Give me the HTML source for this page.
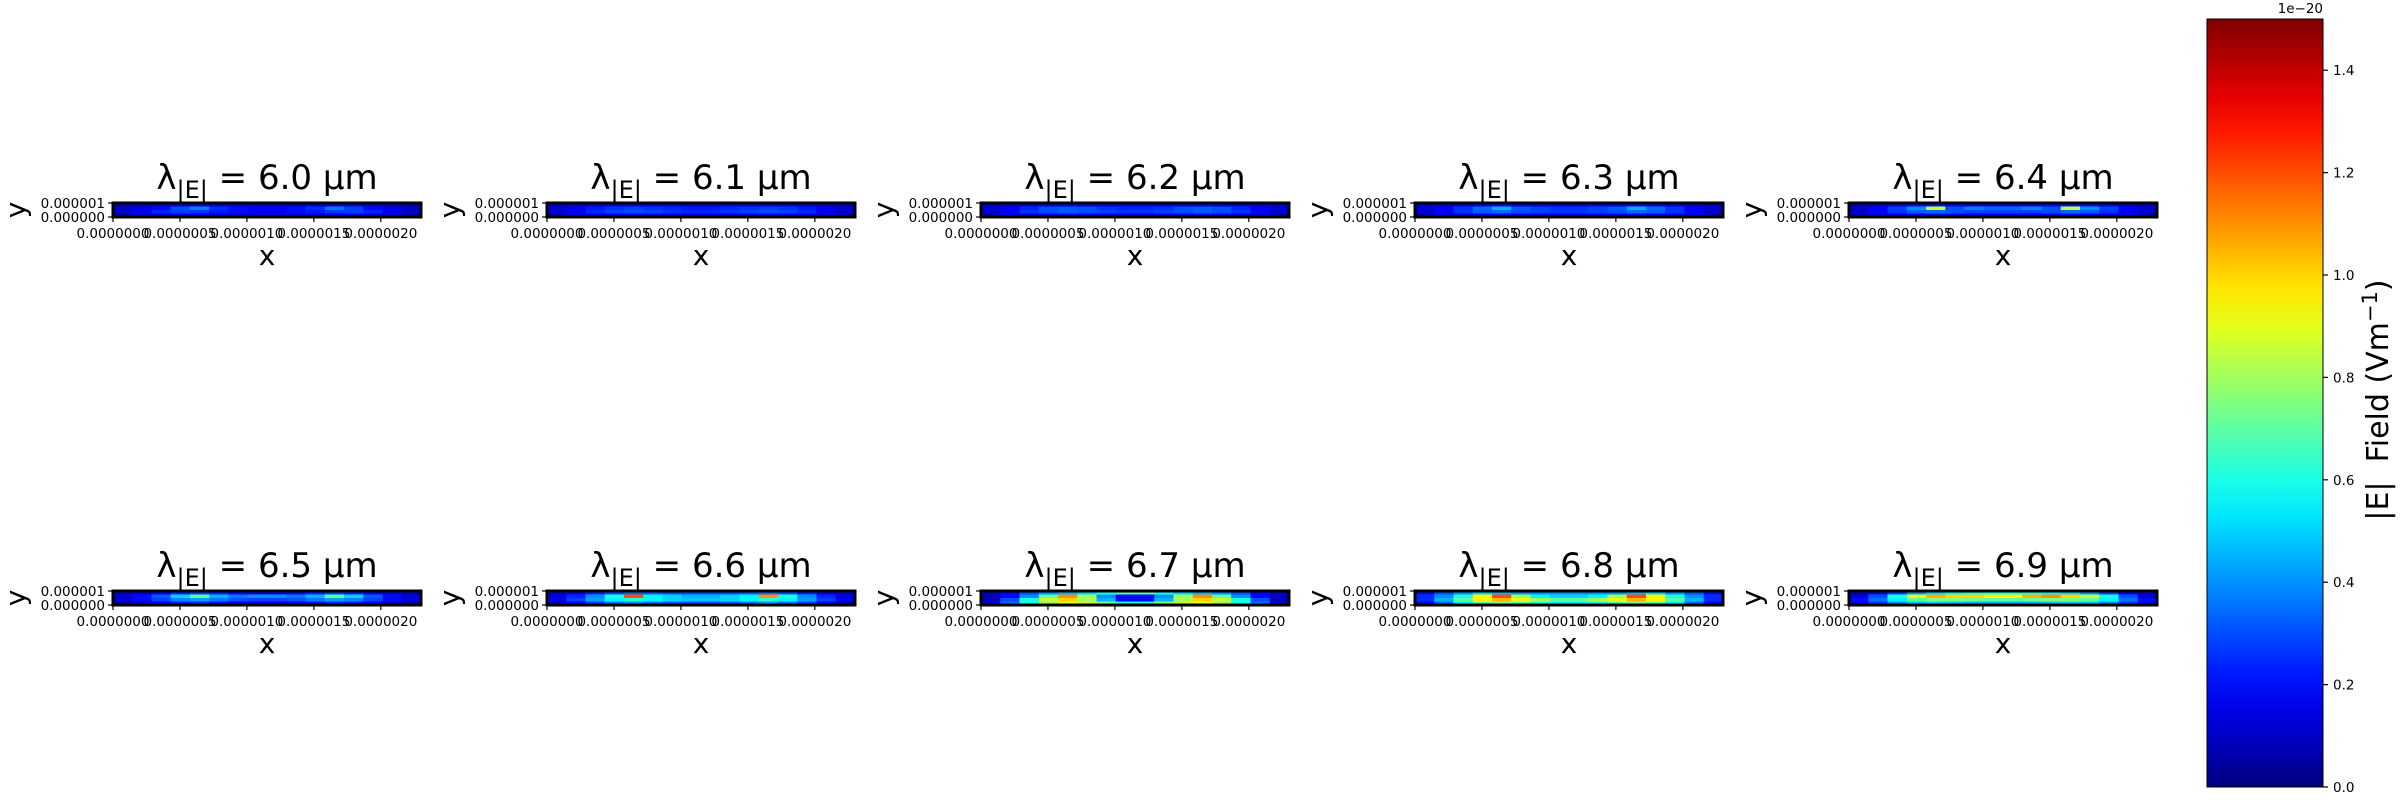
<!DOCTYPE html>
<html><head><meta charset="utf-8"><style>
html,body{margin:0;padding:0;background:#fff;}
svg{display:block;font-family:"DejaVu Sans","Liberation Sans",sans-serif;}
</style></head><body>
<svg id="fig" width="2400" height="800" viewBox="0 0 2400 800" xmlns="http://www.w3.org/2000/svg"></svg>
<script>
// ---- data (units of 1e-20 V/m) ----
const wavelengths = ["6.0","6.1","6.2","6.3","6.4","6.5","6.6","6.7","6.8","6.9"];
const xTickLabels = ["0.0000000","0.0000005","0.0000010","0.0000015","0.0000020"];
const xTickValues = [0,0.5,1.0,1.5,2.0];
const yTickLabels = ["0.000000","0.000001"];
const cbarTicks = [0.0,0.2,0.4,0.6,0.8,1.0,1.2,1.4];
// each panel: 4 rows (top->bottom) x 16 columns
const field60 = [
 [0.08,0.10,0.12,0.14,0.15,0.14,0.13,0.12,0.12,0.13,0.14,0.15,0.14,0.12,0.10,0.08],
 [0.10,0.14,0.20,0.30,0.38,0.25,0.20,0.18,0.18,0.20,0.25,0.36,0.28,0.20,0.14,0.10],
 [0.12,0.18,0.24,0.28,0.26,0.22,0.20,0.18,0.18,0.20,0.22,0.26,0.28,0.24,0.18,0.12],
 [0.06,0.10,0.14,0.16,0.16,0.14,0.12,0.12,0.12,0.12,0.14,0.16,0.16,0.14,0.10,0.06]];
const field61 = [
 [0.10,0.12,0.14,0.16,0.16,0.16,0.15,0.14,0.14,0.15,0.16,0.16,0.16,0.14,0.12,0.10],
 [0.12,0.16,0.22,0.26,0.28,0.26,0.24,0.22,0.22,0.24,0.26,0.28,0.26,0.22,0.16,0.12],
 [0.12,0.18,0.24,0.28,0.30,0.28,0.26,0.24,0.24,0.26,0.28,0.30,0.28,0.24,0.18,0.12],
 [0.08,0.12,0.16,0.18,0.18,0.16,0.15,0.14,0.14,0.15,0.16,0.18,0.18,0.16,0.12,0.08]];
const field62 = [
 [0.10,0.12,0.14,0.16,0.18,0.18,0.17,0.16,0.16,0.17,0.18,0.18,0.16,0.14,0.12,0.10],
 [0.12,0.18,0.24,0.30,0.32,0.30,0.26,0.24,0.24,0.26,0.30,0.32,0.30,0.24,0.18,0.12],
 [0.12,0.18,0.26,0.30,0.32,0.30,0.28,0.26,0.26,0.28,0.30,0.32,0.30,0.26,0.18,0.12],
 [0.08,0.12,0.16,0.18,0.20,0.18,0.16,0.15,0.15,0.16,0.18,0.20,0.18,0.16,0.12,0.08]];
const field63 = [
 [0.10,0.12,0.16,0.18,0.20,0.18,0.17,0.16,0.16,0.17,0.18,0.20,0.18,0.16,0.12,0.10],
 [0.12,0.18,0.26,0.34,0.45,0.32,0.28,0.26,0.26,0.28,0.32,0.44,0.34,0.26,0.18,0.12],
 [0.12,0.18,0.26,0.32,0.34,0.30,0.28,0.26,0.26,0.28,0.30,0.34,0.32,0.26,0.18,0.12],
 [0.08,0.12,0.16,0.18,0.20,0.18,0.16,0.15,0.15,0.16,0.18,0.20,0.18,0.16,0.12,0.08]];
const field64 = [
 [0.10,0.12,0.16,0.20,0.22,0.20,0.18,0.18,0.18,0.18,0.20,0.22,0.20,0.16,0.12,0.10],
 [0.12,0.18,0.28,0.40,0.85,0.30,0.38,0.34,0.34,0.38,0.30,0.85,0.40,0.28,0.18,0.12],
 [0.12,0.18,0.26,0.32,0.34,0.30,0.28,0.28,0.28,0.28,0.30,0.34,0.32,0.26,0.18,0.12],
 [0.08,0.12,0.16,0.18,0.20,0.18,0.16,0.16,0.16,0.16,0.18,0.20,0.18,0.16,0.12,0.08]];
const field65 = [
 [0.10,0.14,0.18,0.24,0.28,0.24,0.20,0.18,0.18,0.20,0.24,0.28,0.24,0.18,0.14,0.10],
 [0.12,0.20,0.32,0.50,0.70,0.45,0.36,0.40,0.40,0.36,0.45,0.70,0.50,0.32,0.20,0.12],
 [0.12,0.20,0.28,0.38,0.42,0.36,0.30,0.28,0.28,0.30,0.36,0.42,0.38,0.28,0.20,0.12],
 [0.08,0.12,0.18,0.22,0.24,0.20,0.18,0.16,0.16,0.18,0.20,0.24,0.22,0.18,0.12,0.08]];
const field66 = [
 [0.10,0.16,0.24,0.30,0.34,0.32,0.30,0.30,0.30,0.30,0.32,0.34,0.30,0.24,0.16,0.10],
 [0.14,0.24,0.40,0.60,1.20,0.55,0.50,0.45,0.45,0.50,0.55,1.10,0.60,0.40,0.24,0.14],
 [0.16,0.28,0.42,0.55,0.62,0.55,0.50,0.48,0.48,0.50,0.55,0.62,0.55,0.42,0.28,0.16],
 [0.10,0.18,0.28,0.36,0.40,0.36,0.32,0.30,0.30,0.32,0.36,0.40,0.36,0.28,0.18,0.10]];
const field67 = [
 [0.10,0.18,0.30,0.40,0.45,0.50,0.60,0.70,0.70,0.60,0.50,0.45,0.40,0.30,0.18,0.10],
 [0.08,0.20,0.40,0.70,1.10,0.80,0.40,0.20,0.20,0.40,0.80,1.10,0.70,0.40,0.20,0.08],
 [0.10,0.30,0.60,0.85,1.00,0.80,0.45,0.20,0.20,0.45,0.80,1.00,0.85,0.60,0.30,0.10],
 [0.12,0.35,0.60,0.80,0.90,0.85,0.75,0.60,0.60,0.75,0.85,0.90,0.80,0.60,0.35,0.12]];
const field68 = [
 [0.20,0.30,0.40,0.50,0.45,0.40,0.40,0.40,0.40,0.40,0.40,0.45,0.50,0.40,0.30,0.20],
 [0.25,0.40,0.60,0.95,1.20,0.80,0.55,0.50,0.50,0.55,0.80,1.20,0.95,0.60,0.40,0.25],
 [0.25,0.45,0.70,0.95,1.05,0.90,0.80,0.70,0.70,0.80,0.90,1.05,0.95,0.70,0.45,0.25],
 [0.20,0.35,0.55,0.70,0.75,0.70,0.60,0.55,0.55,0.60,0.70,0.75,0.70,0.55,0.35,0.20]];
const field69 = [
 [0.10,0.18,0.28,0.40,0.50,0.55,0.60,0.60,0.60,0.60,0.55,0.50,0.40,0.28,0.18,0.10],
 [0.12,0.30,0.60,0.90,1.05,1.00,1.00,0.95,0.95,1.05,1.10,1.00,0.85,0.60,0.30,0.12],
 [0.20,0.35,0.55,0.70,0.75,0.75,0.72,0.70,0.70,0.72,0.75,0.75,0.70,0.55,0.35,0.20],
 [0.18,0.28,0.40,0.48,0.50,0.48,0.46,0.45,0.45,0.46,0.48,0.50,0.48,0.40,0.28,0.18]];
const panelFields = [field60,field61,field62,field63,field64,field65,field66,field67,field68,field69];

const NS="http://www.w3.org/2000/svg";
const svg=document.getElementById('fig');
function mk(tag,attrs,parent){const e=document.createElementNS(NS,tag);for(const k in attrs)e.setAttribute(k,attrs[k]);(parent||svg).appendChild(e);return e;}
function jet(v){v=Math.max(0,Math.min(1,v));
 const r=Math.max(0,Math.min(1,1.5-Math.abs(4*v-3)));
 const g=Math.max(0,Math.min(1,1.5-Math.abs(4*v-2)));
 const b=Math.max(0,Math.min(1,1.5-Math.abs(4*v-1)));
 return `rgb(${Math.round(r*255)},${Math.round(g*255)},${Math.round(b*255)})`;}
const vmax=1.5;
const colX=[113,547,981,1415,1849], rowY=[203,591], AW=308, AH=14, XMAX=2.3;

panelFields.forEach((field,pi)=>{
 const x0=colX[pi%5], y0=rowY[Math.floor(pi/5)];
 const g=mk('g',{});
 
 
 const nr=field.length, nc=field[0].length;
 const xs=v=>x0+v/ nc*AW, ys=v=>y0+v/nr*AH;
 field.forEach((row,ri)=>row.forEach((val,ci)=>{
  const c=mk('rect',{x:xs(ci),y:ys(ri),width:xs(ci+1)-xs(ci)+0.5,height:ys(ri+1)-ys(ri)+0.5,fill:jet(val/vmax)},g);
  
  
 }));
 const fr=mk('rect',{x:x0,y:y0,width:AW,height:AH,fill:'none',stroke:'#000','stroke-width':3},g);
 
 
 const xa=v=>x0+v/XMAX*AW;
 xTickValues.forEach((v,i)=>{
  mk('line',{x1:xa(v),x2:xa(v),y1:y0+AH,y2:y0+AH+5,stroke:'#000','stroke-width':1.2},g);
  const t=mk('text',{x:xa(v),y:y0+AH+21,'font-size':13.5,'text-anchor':'middle'},g);
  t.textContent=xTickLabels[i];
  
  
 });
 [y0+AH,y0].forEach((yy,i)=>{
  mk('line',{x1:x0-5,x2:x0,y1:yy,y2:yy,stroke:'#000','stroke-width':1.2},g);
  const t=mk('text',{x:x0-8,y:yy+5,'font-size':13.5,'text-anchor':'end'},g);
  t.textContent=yTickLabels[i];
  
  
 });
 const xl=mk('text',{x:x0+AW/2,y:y0+AH+48,'font-size':28,'text-anchor':'middle'},g);
 xl.textContent='x';
 
 
 const yl=mk('text',{x:0,y:0,'font-size':28,'text-anchor':'middle',transform:`translate(${x0-88},${y0+AH/2}) rotate(-90)`},g);
 yl.textContent='y';
 
 
 const tt=mk('text',{x:x0+AW/2,y:y0-14,'font-size':34,'text-anchor':'middle'},g);
 tt.innerHTML='λ<tspan font-size="24" dy="9">|E|</tspan><tspan dy="-9"> = '+wavelengths[pi]+' µm</tspan>';
 
 
});

const cbX=2207,cbW=116,cbTop=19,cbBot=787;
const cy=v=>cbBot-(v/vmax)*(cbBot-cbTop);
const defs=mk('defs',{});
const lg=mk('linearGradient',{id:'jetg',x1:0,y1:1,x2:0,y2:0},defs);
for(let i=0;i<=20;i++){mk('stop',{offset:i/20,'stop-color':jet(i/20)},lg);}
const cb=mk('rect',{x:cbX,y:cbTop,width:cbW,height:cbBot-cbTop,fill:'url(#jetg)',stroke:'#000','stroke-width':1});


cbarTicks.forEach(v=>{
 mk('line',{x1:cbX+cbW,x2:cbX+cbW+5,y1:cy(v),y2:cy(v),stroke:'#000','stroke-width':1.2});
 const t=mk('text',{x:cbX+cbW+10,y:cy(v)+5,'font-size':13.5});
 t.textContent=v.toFixed(1);
 
 
});
const off=mk('text',{x:cbX+cbW,y:13,'font-size':13.5,'text-anchor':'end'});
off.textContent='1e−20';


const cl=mk('text',{x:0,y:0,'font-size':30,'text-anchor':'middle',transform:'translate(2388,400) rotate(-90)'});
cl.innerHTML='|E|\u00a0\u00a0Field (Vm<tspan font-size="21" dy="-11">−1</tspan><tspan dy="11">)</tspan>';


</script>
</body></html>
